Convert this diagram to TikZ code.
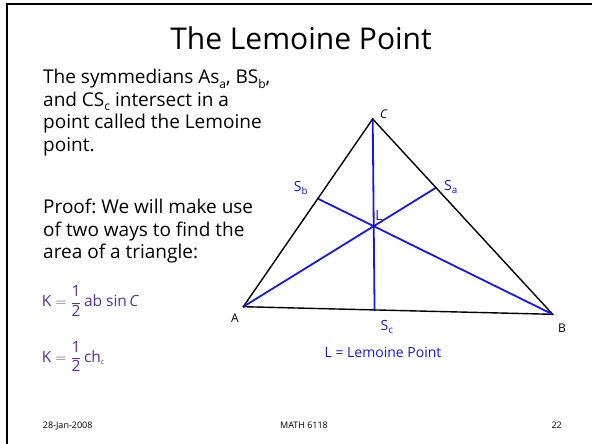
\documentclass[tikz,border=0pt]{standalone}
\usepackage{amsmath}
\usepackage{fontspec}
\setmainfont{Open Sans}
\usetikzlibrary{calc}
\definecolor{symblue}{HTML}{1414FF}
\definecolor{areaviolet}{HTML}{5E2CA5}
\newcommand{\lsub}[1]{\raisebox{-0.25em}{\fontsize{12}{12}\selectfont #1}}
\frenchspacing

\begin{document}
\begin{tikzpicture}[x=1pt,y=-1pt,
  body/.style={align=left,inner sep=0pt,anchor=north west,font=\fontsize{19}{22.5}\selectfont},
  areaeq/.style={text=areaviolet,inner sep=0pt,anchor=base west,font=\fontsize{15.5}{18}\selectfont},
  vlabel/.style={inner sep=0pt,font=\fontsize{12}{14}\selectfont},
  slabel/.style={text=symblue,inner sep=0pt,font=\fontsize{14}{16}\selectfont},
  foot/.style={inner sep=0pt,font=\fontsize{9}{11}\selectfont},
  side/.style={line width=1.4pt,line join=round},
  sym/.style={symblue,line width=1.8pt}]
  \useasboundingbox (0,0) rectangle (592,444);
  % slide frame
  \draw[line width=2pt] (7,444) |- (592,4);
  % title and text
  \node[inner sep=0pt,anchor=base,font=\fontsize{30}{36}\selectfont] (title) at (301,50) {The Lemoine Point};
  \node[body] (intro) at (43,69) {The symmedians As\lsub{a}, BS\lsub{b},\\and CS\lsub{c} intersect in a\\point called the Lemoine\\point.};
  \node[body] (proof) at (43,199) {Proof: We will make use\\of two ways to find the\\area of a triangle:};
  \node[areaeq] (k1) at (41.7,306.7) {$\text{K} = \dfrac{\text{1}}{\text{2}}\,\text{ab sin}\,\textit{C}$};
  \node[areaeq] (k2) at (41.7,362) {$\text{K} = \dfrac{\text{1}}{\text{2}}\,\text{ch}_{\text{\scriptsize c}}$};
  % triangle and symmedians
  \coordinate (A) at (243.3,306.7);
  \coordinate (B) at (552.7,314.3);
  \coordinate (C) at (372.7,119);
  \coordinate (Sc) at ($(A)!0.4242!(B)$);
  \coordinate (Sa) at ($(B)!0.6483!(C)$);
  \coordinate (Sb) at ($(C)!0.4241!(A)$);
  \coordinate (L) at (intersection of A--Sa and B--Sb);
  \draw[side] (A) -- (B) -- (C) -- cycle;
  \draw[sym] (A) -- (Sa);
  \draw[sym] (B) -- (Sb);
  \draw[sym] (C) -- (Sc);
  \foreach \p in {A,B,C,Sa,Sb,Sc,L}
    \fill (\p) circle (1pt);
  % labels
  \node[vlabel] (lC) at (384,114) {\textit{C}};
  \node[vlabel] (lA) at (235,318) {A};
  \node[vlabel] (lB) at (562,328) {B};
  \node[slabel] (lSa) at (451,187) {S\textsubscript{a}};
  \node[slabel] (lSb) at (301,188) {S\textsubscript{b}};
  \node[slabel] (lSc) at (387,327) {S\textsubscript{c}};
  \node[slabel] (lL) at (379,216) {L};
  \node[slabel,anchor=base] (key) at (383,357) {L = Lemoine Point};
  % footer
  \node[foot,anchor=base west] (date) at (42.7,428) {28-Jan-2008};
  \node[foot,anchor=base] (course) at (304,428) {MATH 6118};
  \node[foot,anchor=base east] (page) at (562,428) {22};
\end{tikzpicture}
\end{document}
